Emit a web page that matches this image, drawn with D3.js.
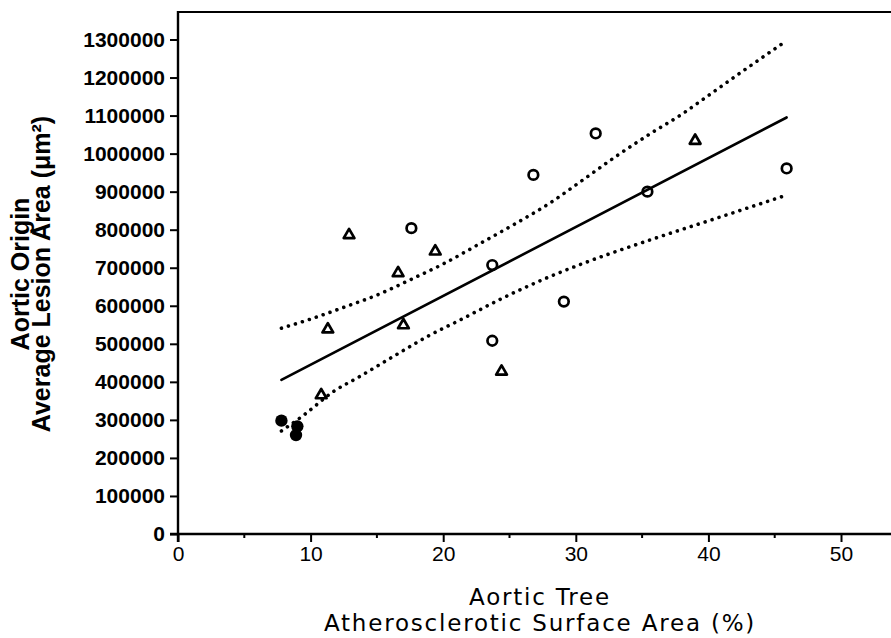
<!DOCTYPE html>
<html>
<head>
<meta charset="utf-8">
<script src="https://cdn.jsdelivr.net/npm/d3@7"></script>
<style>
  html, body { margin: 0; padding: 0; background: #fff; }
  svg { display: block; }
</style>
</head>
<body>
<script>
// ---- data ----
const xTicks = [0, 10, 20, 30, 40, 50];
const xMinorTicks = [5, 15, 25, 35, 45];
const yTicks = [0, 100000, 200000, 300000, 400000, 500000, 600000, 700000, 800000, 900000, 1000000, 1100000, 1200000, 1300000];

const triX = [10.8, 11.3, 12.9, 16.6, 17.0, 19.4, 24.4, 39.0];
const triY = [365000, 538000, 786000, 686000, 549000, 743000, 427000, 1034000];

const circX = [17.6, 23.7, 23.7, 26.8, 29.1, 31.5, 35.4, 45.9];
const circY = [804000, 707000, 508000, 944000, 611000, 1053000, 900000, 961000];

const dotX = [7.8, 9.0, 8.9];
const dotY = [298000, 283000, 260000];

const fitX = [7.8, 45.9];
const fitY = [405000, 1095000];

const upperX = [7.8, 10.0, 12.5, 15.0, 17.5, 20.0, 23.0, 25.5, 28.0, 30.5, 33.0, 35.6, 38.1, 39.4, 42.8, 45.9];
const upperY = [541000, 565000, 596000, 628000, 668000, 710000, 768000, 817000, 869000, 930000, 992000, 1052000, 1106000, 1138000, 1222000, 1297000];

const lowerX = [7.8, 9.5, 11.7, 13.7, 16.2, 18.8, 21.3, 24.3, 28.0, 30.6, 35.6, 40.6, 45.9];
const lowerY = [271000, 313000, 374000, 414000, 466000, 519000, 563000, 617000, 676000, 712000, 773000, 830000, 891000];

const xTitle = ["Aortic Tree", "Atherosclerotic Surface Area (%)"];
const yTitle = ["Aortic Origin", "Average Lesion Area (\u03BCm\u00B2)"];

// ---- drawing ----
const W = 891, H = 638;
const svg = d3.select("body").append("svg").attr("width", W).attr("height", H)
  .style("background", "#fff");

const x = d3.scaleLinear().domain([0, 53.77]).range([178, 891]);
const y = d3.scaleLinear().domain([0, 1300000]).range([534, 39.5]);

const ink = "#000";
const boldFont = "'Liberation Sans', Arial, sans-serif";
const geoFont = "'DejaVu Sans', 'Liberation Sans', sans-serif";

// frame: top line and axes
svg.append("line").attr("x1", 178).attr("x2", W).attr("y1", 12).attr("y2", 12)
  .attr("stroke", ink).attr("stroke-width", 2.2);
svg.append("line").attr("x1", 178).attr("x2", 178).attr("y1", 11).attr("y2", 542)
  .attr("stroke", ink).attr("stroke-width", 2.4);

// y axis
const yAxis = d3.axisLeft(y).tickValues(yTicks).tickFormat(d3.format("d"))
  .tickSize(8).tickPadding(5);
const gy = svg.append("g").attr("transform", "translate(178,0)").call(yAxis);
gy.select(".domain").remove();
gy.selectAll(".tick line").attr("stroke", ink).attr("stroke-width", 2);
gy.selectAll(".tick text").attr("fill", ink)
  .style("font-family", boldFont).style("font-weight", "bold").style("font-size", "21px");

// x axis
const xAxis = d3.axisBottom(x).tickValues(xTicks).tickFormat(d3.format("d"))
  .tickSize(8).tickPadding(4);
const gx = svg.append("g").attr("transform", "translate(0,534)").call(xAxis);
gx.select(".domain").attr("d", `M170,0H${W}`).attr("stroke", ink).attr("stroke-width", 2.4);
gx.selectAll(".tick line").attr("stroke", ink).attr("stroke-width", 2);
gx.selectAll(".tick text").attr("fill", ink)
  .style("font-family", boldFont).style("font-size", "21px");
gx.selectAll(".minor").data(xMinorTicks).enter().append("line")
  .attr("x1", d => x(d)).attr("x2", d => x(d)).attr("y1", 0).attr("y2", 4)
  .attr("stroke", ink).attr("stroke-width", 2);

// titles
xTitle.forEach((t, i) => {
  svg.append("text").attr("text-anchor", "middle").attr("fill", ink)
    .attr("x", 540).attr("y", 605 + i * 26)
    .style("font-family", geoFont).style("font-size", "23px").style("letter-spacing", "1.8px")
    .text(t);
});

yTitle.forEach((t, i) => {
  svg.append("text").attr("text-anchor", "middle").attr("fill", ink)
    .attr("transform", `translate(${29 + i * 21},274) rotate(-90)`)
    .style("font-family", boldFont).style("font-weight", "bold").style("font-size", "25px")
    .text(t);
});

// lines
const line = d3.line().x(d => x(d[0])).y(d => y(d[1]));
const curve = d3.line().x(d => x(d[0])).y(d => y(d[1])).curve(d3.curveMonotoneX);

svg.append("path").datum(d3.zip(fitX, fitY)).attr("d", line)
  .attr("fill", "none").attr("stroke", ink).attr("stroke-width", 2.6).attr("stroke-linecap", "round");

[d3.zip(upperX, upperY), d3.zip(lowerX, lowerY)].forEach(pts => {
  svg.append("path").datum(pts).attr("d", curve)
    .attr("fill", "none").attr("stroke", ink).attr("stroke-width", 3.6)
    .attr("stroke-linecap", "round").attr("stroke-dasharray", "0.01 7.3");
});

// markers
svg.selectAll(".tri").data(d3.zip(triX, triY)).enter().append("path")
  .attr("transform", d => `translate(${x(d[0])},${y(d[1])})`)
  .attr("d", d3.symbol().type(d3.symbolTriangle).size(50))
  .attr("fill", "none").attr("stroke", ink).attr("stroke-width", 2.7).attr("stroke-linejoin", "round");

svg.selectAll(".circ").data(d3.zip(circX, circY)).enter().append("circle")
  .attr("cx", d => x(d[0])).attr("cy", d => y(d[1])).attr("r", 4.8)
  .attr("fill", "none").attr("stroke", ink).attr("stroke-width", 2.7);

svg.selectAll(".dot").data(d3.zip(dotX, dotY)).enter().append("circle")
  .attr("cx", d => x(d[0])).attr("cy", d => y(d[1])).attr("r", 6.2)
  .attr("fill", ink);
</script>
</body>
</html>
